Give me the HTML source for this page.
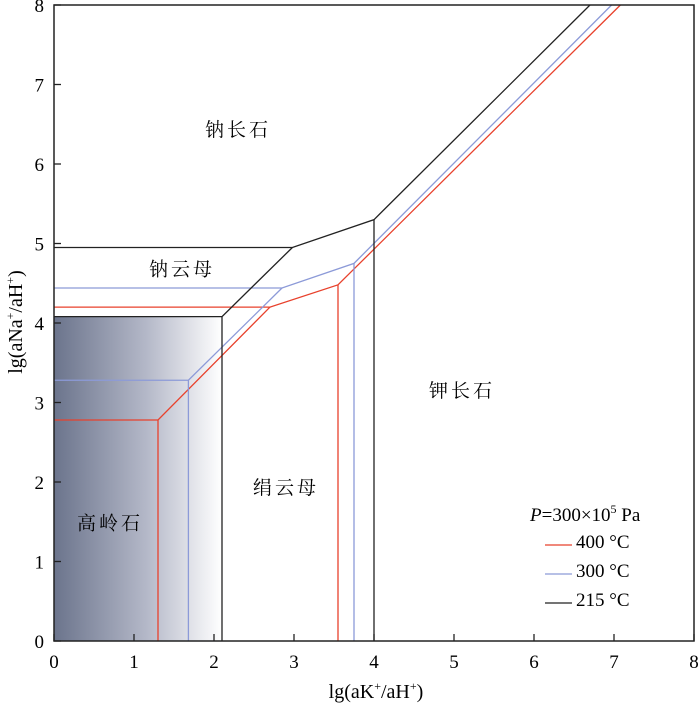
<!DOCTYPE html>
<html><head><meta charset="utf-8"><style>
body{margin:0;background:#fff;}
svg{display:block;font-family:"Liberation Serif","Noto Serif CJK SC",serif;}
</style></head><body>
<svg id="chart" width="700" height="710" viewBox="0 0 700 710" xmlns="http://www.w3.org/2000/svg">
<defs><linearGradient id="kg" x1="0" x2="1" y1="0" y2="0"><stop offset="0" stop-color="#6b748c"/><stop offset="0.55" stop-color="#b4b8c8"/><stop offset="1" stop-color="#ffffff"/></linearGradient></defs>
<g id="plot"></g>
<text x="530" y="521" font-size="19" font-family="Liberation Serif, serif"><tspan font-style="italic">P</tspan>=300×10<tspan font-size="12" dy="-8">5</tspan><tspan dy="8"> Pa</tspan></text>
<text x="376" y="698" text-anchor="middle" font-size="20" font-family="Liberation Serif, serif">lg(aK<tspan font-size="12" dy="-8">+</tspan><tspan dy="8">/aH</tspan><tspan font-size="12" dy="-8">+</tspan><tspan dy="8">)</tspan></text>
<text transform="translate(22,322) rotate(-90)" text-anchor="middle" font-size="20" font-family="Liberation Serif, serif">lg(aNa<tspan font-size="12" dy="-8">+</tspan><tspan dy="8">/aH</tspan><tspan font-size="12" dy="-8">+</tspan><tspan dy="8">)</tspan></text>
</svg>
<script>
const xTicks=[0,1,2,3,4,5,6,7,8];
const yTicks=[0,1,2,3,4,5,6,7,8];
const kaolinite=[[0,0],[2.1,0],[2.1,4.08],[0,4.08]];
const black215=[[[0,4.95],[2.98,4.95],[4,5.3],[6.7,8]],[[2.1,0],[2.1,4.08],[2.98,4.95]],[[0,4.08],[2.1,4.08]],[[4,0],[4,5.3]]];
const blue300=[[[0,4.44],[2.85,4.44],[3.75,4.75],[6.97,8]],[[0,3.28],[1.68,3.28],[2.85,4.44]],[[1.68,0],[1.68,3.28]],[[3.75,0],[3.75,4.75]]];
const red400=[[[0,4.2],[2.7,4.2],[3.55,4.48],[7.08,8]],[[0,2.78],[1.3,2.78],[2.7,4.2]],[[1.3,0],[1.3,2.78]],[[3.55,0],[3.55,4.48]]];
const regionLabels=[["钠长石",2.3,6.35],["钠云母",1.6,4.6],["高岭石",0.7,1.4],["绢云母",2.9,1.85],["钾长石",5.1,3.07]];
const legendItems=[["400 °C","#e8412c"],["300 °C","#8c9ad8"],["215 °C","#222"]];
const X0=54,XU=80,Y0=641,YU=79.5;
const sx=v=>X0+v*XU, sy=v=>Y0-v*YU;
const NS="http://www.w3.org/2000/svg";
const g=document.getElementById('plot');
function mk(t,a){const e=document.createElementNS(NS,t);for(const k in a)e.setAttribute(k,a[k]);g.appendChild(e);return e;}
let e=mk('polygon',{points:kaolinite.map(p=>sx(p[0])+','+sy(p[1])).join(' '),fill:'url(#kg)'});


function series(arr,col,name){arr.forEach((seg,i)=>{const p=mk('polyline',{points:seg.map(q=>sx(q[0])+','+sy(q[1])).join(' '),fill:'none',stroke:col,'stroke-width':1.3});

});}
series(red400,'#e8412c','line-400c');series(blue300,'#8c9ad8','line-300c');series(black215,'#222','line-215c');
e=mk('rect',{x:sx(0),y:sy(8),width:sx(8)-sx(0),height:sy(0)-sy(8),fill:'none',stroke:'#222','stroke-width':1.5});


xTicks.forEach(v=>{mk('line',{x1:sx(v),x2:sx(v),y1:Y0,y2:Y0-7,stroke:'#222','stroke-width':1.3});
const t=mk('text',{x:sx(v),y:Y0+27,'text-anchor':'middle','font-size':19});t.textContent=v;

});
yTicks.forEach(v=>{mk('line',{x1:X0,x2:X0+7,y1:sy(v),y2:sy(v),stroke:'#222','stroke-width':1.3});
const t=mk('text',{x:X0-10,y:sy(v)+7,'text-anchor':'end','font-size':19});t.textContent=v;

});
regionLabels.forEach(r=>{const t=mk('text',{x:sx(r[1]),y:sy(r[2]),'text-anchor':'middle','font-size':19,'letter-spacing':3});t.textContent=r[0];

});
legendItems.forEach((it,i)=>{const y=540+i*29;mk('line',{x1:545,x2:572,y1:y+5,y2:y+5,stroke:it[1],'stroke-width':1.3});
const t=mk('text',{x:576,y:y+8,'font-size':19});t.textContent=it[0];

});
</script>
</body></html>
